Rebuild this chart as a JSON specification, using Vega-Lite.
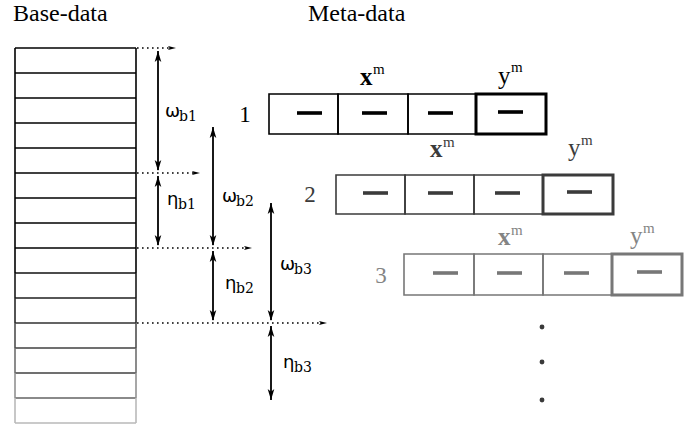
{
  "$schema": "https://vega.github.io/schema/vega-lite/v6.json",
  "width": 700,
  "height": 426,
  "autosize": {"type": "fit", "contains": "padding"},
  "padding": 0,
  "background": "white",
  "config": {"view": {"stroke": null}, "axis": {"disable": true}, "legend": {"disable": true}},
  "datasets": {
    "base_h": [
      {"x": 15, "x2": 136, "y": 48, "fade": 0},
      {"x": 15, "x2": 136, "y": 73, "fade": 0},
      {"x": 15, "x2": 136, "y": 98, "fade": 0},
      {"x": 15, "x2": 136, "y": 123, "fade": 0},
      {"x": 15, "x2": 136, "y": 148, "fade": 0},
      {"x": 15, "x2": 136, "y": 173, "fade": 0},
      {"x": 15, "x2": 136, "y": 198, "fade": 0},
      {"x": 15, "x2": 136, "y": 223, "fade": 0},
      {"x": 15, "x2": 136, "y": 248, "fade": 0},
      {"x": 15, "x2": 136, "y": 273, "fade": 5},
      {"x": 15, "x2": 136, "y": 298, "fade": 12},
      {"x": 15, "x2": 136, "y": 323, "fade": 20},
      {"x": 15, "x2": 136, "y": 348, "fade": 27},
      {"x": 15, "x2": 136, "y": 373, "fade": 27},
      {"x": 15, "x2": 136, "y": 398, "fade": 42},
      {"x": 15, "x2": 136, "y": 423, "fade": 75}
    ],
    "base_v": [
      {"x": 15, "y": 48, "y2": 273, "fade": 0},
      {"x": 136, "y": 48, "y2": 273, "fade": 0},
      {"x": 15, "y": 273, "y2": 298, "fade": 8},
      {"x": 136, "y": 273, "y2": 298, "fade": 8},
      {"x": 15, "y": 298, "y2": 323, "fade": 16},
      {"x": 136, "y": 298, "y2": 323, "fade": 16},
      {"x": 15, "y": 323, "y2": 348, "fade": 33},
      {"x": 136, "y": 323, "y2": 348, "fade": 33},
      {"x": 15, "y": 348, "y2": 373, "fade": 47},
      {"x": 136, "y": 348, "y2": 373, "fade": 47},
      {"x": 15, "y": 373, "y2": 398, "fade": 60},
      {"x": 136, "y": 373, "y2": 398, "fade": 60},
      {"x": 15, "y": 398, "y2": 423, "fade": 75},
      {"x": 136, "y": 398, "y2": 423, "fade": 75}
    ],
    "dotted": [
      {"x": 137, "x2": 170, "y": 48},
      {"x": 137, "x2": 194, "y": 173},
      {"x": 137, "x2": 246, "y": 248},
      {"x": 137, "x2": 321, "y": 323}
    ],
    "arrow_r": [
      {"x": 176, "y": 48},
      {"x": 200, "y": 173},
      {"x": 252, "y": 248},
      {"x": 327, "y": 323}
    ],
    "shafts": [
      {"x": 158, "y": 51, "y2": 170},
      {"x": 158, "y": 176, "y2": 245},
      {"x": 213, "y": 127, "y2": 245},
      {"x": 213, "y": 251, "y2": 320},
      {"x": 271, "y": 203, "y2": 320},
      {"x": 271, "y": 326, "y2": 400}
    ],
    "arrow_u": [
      {"x": 158, "y": 51},
      {"x": 158, "y": 176},
      {"x": 213, "y": 127},
      {"x": 213, "y": 251},
      {"x": 271, "y": 203},
      {"x": 271, "y": 326}
    ],
    "arrow_d": [
      {"x": 158, "y": 171},
      {"x": 158, "y": 246},
      {"x": 213, "y": 246},
      {"x": 213, "y": 321},
      {"x": 271, "y": 321},
      {"x": 271, "y": 400}
    ],
    "greek": [
      {"x": 165, "y": 117, "text": "ω"},
      {"x": 167, "y": 205, "text": "η"},
      {"x": 222, "y": 202, "text": "ω"},
      {"x": 225, "y": 289, "text": "η"},
      {"x": 280, "y": 270, "text": "ω"},
      {"x": 283, "y": 368, "text": "η"}
    ],
    "greek_sub": [
      {"x": 179, "y": 121, "text": "b1"},
      {"x": 178, "y": 209, "text": "b1"},
      {"x": 236, "y": 206, "text": "b2"},
      {"x": 236, "y": 293, "text": "b2"},
      {"x": 294, "y": 274, "text": "b3"},
      {"x": 294, "y": 372, "text": "b3"}
    ],
    "titles": [
      {"x": 13, "y": 21, "text": "Base-data"},
      {"x": 308, "y": 21, "text": "Meta-data"}
    ],
    "xcells": [
      {"x": 269, "x2": 338, "y": 94, "y2": 134, "fade": 0},
      {"x": 338, "x2": 408, "y": 94, "y2": 134, "fade": 0},
      {"x": 408, "x2": 476, "y": 94, "y2": 134, "fade": 0},
      {"x": 336, "x2": 405, "y": 175, "y2": 214, "fade": 25},
      {"x": 405, "x2": 474, "y": 175, "y2": 214, "fade": 25},
      {"x": 474, "x2": 543, "y": 175, "y2": 214, "fade": 25},
      {"x": 404, "x2": 474, "y": 254, "y2": 295, "fade": 50},
      {"x": 474, "x2": 543, "y": 254, "y2": 295, "fade": 50},
      {"x": 543, "x2": 612, "y": 254, "y2": 295, "fade": 50}
    ],
    "ycells": [
      {"x": 476, "x2": 546, "y": 94, "y2": 134, "fade": 0},
      {"x": 543, "x2": 613, "y": 175, "y2": 214, "fade": 25},
      {"x": 612, "x2": 682, "y": 254, "y2": 295, "fade": 50}
    ],
    "dashes": [
      {"x": 297, "x2": 322, "y": 113, "fade": 0},
      {"x": 362, "x2": 387, "y": 113, "fade": 0},
      {"x": 428, "x2": 453, "y": 113, "fade": 0},
      {"x": 498, "x2": 523, "y": 112, "fade": 0},
      {"x": 363, "x2": 388, "y": 193, "fade": 25},
      {"x": 428, "x2": 453, "y": 193, "fade": 25},
      {"x": 495, "x2": 520, "y": 193, "fade": 25},
      {"x": 567, "x2": 592, "y": 192, "fade": 25},
      {"x": 433, "x2": 458, "y": 273, "fade": 50},
      {"x": 497, "x2": 522, "y": 273, "fade": 50},
      {"x": 564, "x2": 589, "y": 273, "fade": 50},
      {"x": 637, "x2": 662, "y": 272, "fade": 50}
    ],
    "rownum": [
      {"x": 245, "y": 122, "text": "1", "fade": 0},
      {"x": 310, "y": 202, "text": "2", "fade": 25},
      {"x": 381, "y": 283, "text": "3", "fade": 55}
    ],
    "xletters": [
      {"x": 360, "y": 85, "text": "x", "fade": 0},
      {"x": 430, "y": 157, "text": "x", "fade": 25},
      {"x": 498, "y": 245, "text": "x", "fade": 55}
    ],
    "yletters": [
      {"x": 498, "y": 84, "text": "y", "fade": 0},
      {"x": 568, "y": 156, "text": "y", "fade": 25},
      {"x": 630, "y": 244, "text": "y", "fade": 55}
    ],
    "sup": [
      {"x": 373, "y": 74, "text": "m", "fade": 0},
      {"x": 511, "y": 72, "text": "m", "fade": 0},
      {"x": 443, "y": 147, "text": "m", "fade": 25},
      {"x": 581, "y": 145, "text": "m", "fade": 25},
      {"x": 511, "y": 235, "text": "m", "fade": 55},
      {"x": 643, "y": 233, "text": "m", "fade": 55}
    ],
    "ellipsis": [
      {"x": 542, "y": 327},
      {"x": 542, "y": 362},
      {"x": 542, "y": 400}
    ]
  },
  "encoding": {
    "x": {"field": "x", "type": "quantitative", "scale": {"domain": [0, 700], "nice": false, "zero": false}},
    "y": {"field": "y", "type": "quantitative", "scale": {"domain": [0, 426], "reverse": true, "nice": false, "zero": false}}
  },
  "layer": [
    {
      "data": {"name": "base_h"},
      "mark": {"type": "rule", "strokeWidth": 1.6},
      "encoding": {
        "x2": {"field": "x2"},
        "stroke": {"field": "fade", "type": "quantitative", "scale": {"domain": [0, 100], "range": ["#000000", "#ffffff"]}}
      }
    },
    {
      "data": {"name": "base_v"},
      "mark": {"type": "rule", "strokeWidth": 1.6},
      "encoding": {
        "y2": {"field": "y2"},
        "stroke": {"field": "fade", "type": "quantitative", "scale": {"domain": [0, 100], "range": ["#000000", "#ffffff"]}}
      }
    },
    {
      "data": {"name": "dotted"},
      "mark": {"type": "rule", "strokeWidth": 1.4, "strokeDash": [1.6, 3.4], "color": "#000"},
      "encoding": {"x2": {"field": "x2"}}
    },
    {
      "data": {"name": "arrow_r"},
      "mark": {"type": "point", "filled": true, "opacity": 1, "size": 64, "color": "#000", "shape": "M0,0 L-2,-0.5 L-1.6,0 L-2,0.5 Z"},
      "encoding": {}
    },
    {
      "data": {"name": "shafts"},
      "mark": {"type": "rule", "strokeWidth": 1.8, "color": "#000"},
      "encoding": {"y2": {"field": "y2"}}
    },
    {
      "data": {"name": "arrow_u"},
      "mark": {"type": "point", "filled": true, "opacity": 1, "size": 121, "color": "#000", "shape": "M0,0 L-0.6,2 L0,1.5 L0.6,2 Z"},
      "encoding": {}
    },
    {
      "data": {"name": "arrow_d"},
      "mark": {"type": "point", "filled": true, "opacity": 1, "size": 121, "color": "#000", "shape": "M0,0 L-0.6,-2 L0,-1.5 L0.6,-2 Z"},
      "encoding": {}
    },
    {
      "data": {"name": "greek"},
      "mark": {"type": "text", "align": "left", "baseline": "alphabetic", "font": "DejaVu Sans", "fontSize": 18, "color": "#000"},
      "encoding": {"text": {"field": "text"}}
    },
    {
      "data": {"name": "greek_sub"},
      "mark": {"type": "text", "align": "left", "baseline": "alphabetic", "font": "DejaVu Serif", "fontSize": 14, "color": "#000"},
      "encoding": {"text": {"field": "text"}}
    },
    {
      "data": {"name": "titles"},
      "mark": {"type": "text", "align": "left", "baseline": "alphabetic", "font": "Liberation Serif", "fontSize": 24, "color": "#000"},
      "encoding": {"text": {"field": "text"}}
    },
    {
      "data": {"name": "xcells"},
      "mark": {"type": "rect", "fill": "white", "fillOpacity": 0, "strokeWidth": 1.6},
      "encoding": {
        "x2": {"field": "x2"},
        "y2": {"field": "y2"},
        "stroke": {"field": "fade", "type": "quantitative", "scale": {"domain": [0, 100], "range": ["#000000", "#ffffff"]}}
      }
    },
    {
      "data": {"name": "ycells"},
      "mark": {"type": "rect", "fill": "white", "fillOpacity": 0, "strokeWidth": 3},
      "encoding": {
        "x2": {"field": "x2"},
        "y2": {"field": "y2"},
        "stroke": {"field": "fade", "type": "quantitative", "scale": {"domain": [0, 100], "range": ["#000000", "#ffffff"]}}
      }
    },
    {
      "data": {"name": "dashes"},
      "mark": {"type": "rule", "strokeWidth": 3.6},
      "encoding": {
        "x2": {"field": "x2"},
        "stroke": {"field": "fade", "type": "quantitative", "scale": {"domain": [0, 100], "range": ["#000000", "#ffffff"]}}
      }
    },
    {
      "data": {"name": "rownum"},
      "mark": {"type": "text", "align": "center", "baseline": "alphabetic", "font": "Liberation Serif", "fontSize": 23},
      "encoding": {
        "text": {"field": "text"},
        "color": {"field": "fade", "type": "quantitative", "scale": {"domain": [0, 100], "range": ["#000000", "#ffffff"]}}
      }
    },
    {
      "data": {"name": "xletters"},
      "mark": {"type": "text", "align": "left", "baseline": "alphabetic", "font": "Liberation Serif", "fontSize": 25, "fontWeight": "bold"},
      "encoding": {
        "text": {"field": "text"},
        "color": {"field": "fade", "type": "quantitative", "scale": {"domain": [0, 100], "range": ["#000000", "#ffffff"]}}
      }
    },
    {
      "data": {"name": "yletters"},
      "mark": {"type": "text", "align": "left", "baseline": "alphabetic", "font": "Liberation Serif", "fontSize": 25},
      "encoding": {
        "text": {"field": "text"},
        "color": {"field": "fade", "type": "quantitative", "scale": {"domain": [0, 100], "range": ["#000000", "#ffffff"]}}
      }
    },
    {
      "data": {"name": "sup"},
      "mark": {"type": "text", "align": "left", "baseline": "alphabetic", "font": "Liberation Serif", "fontSize": 15},
      "encoding": {
        "text": {"field": "text"},
        "color": {"field": "fade", "type": "quantitative", "scale": {"domain": [0, 100], "range": ["#000000", "#ffffff"]}}
      }
    },
    {
      "data": {"name": "ellipsis"},
      "mark": {"type": "point", "shape": "circle", "filled": true, "opacity": 1, "size": 24, "color": "#3a3a3a"},
      "encoding": {}
    }
  ]
}
